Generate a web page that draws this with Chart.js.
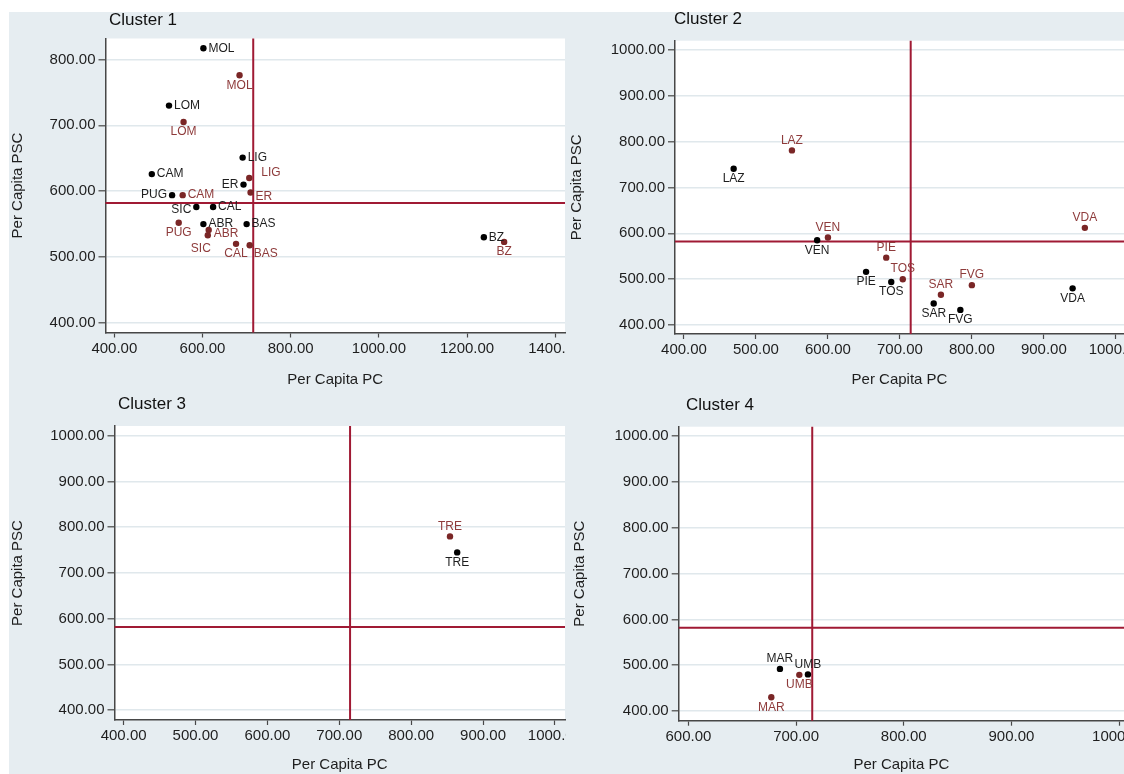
<!DOCTYPE html>
<html>
<head>
<meta charset="utf-8">
<script src="https://cdn.jsdelivr.net/npm/chart.js@4.4.1/dist/chart.umd.min.js"></script>
<style>
  html, body { margin: 0; padding: 0; background: #ffffff; width: 1124px; height: 774px; overflow: hidden; }
  #bg { position: absolute; left: 9px; top: 12px; width: 1115px; height: 762px; background: #e6edf1; }
  canvas { position: absolute; }
</style>
</head>
<body>
<div id="bg"></div>
<canvas id="c1" width="557" height="378" style="left:9px;top:12px"></canvas>
<canvas id="c2" width="558" height="378" style="left:566px;top:12px"></canvas>
<canvas id="c3" width="557" height="384" style="left:9px;top:390px"></canvas>
<canvas id="c4" width="558" height="384" style="left:566px;top:390px"></canvas>
<script>
// ---------------- DATA ----------------
const refPC = 715;   // vertical reference line (Per Capita PC)
const refPSC = 582;  // horizontal reference line (Per Capita PSC)

// Cluster 1
const c1Regions = ['MOL','LOM','LIG','CAM','ER','PUG','SIC','CAL','ABR','BAS','BZ'];
const c1BlackPC  = [602, 524, 691, 485, 693, 531, 586, 624, 602, 700, 1238];
const c1BlackPSC = [817, 730, 651, 626, 610, 594, 576, 576, 550, 550, 530];
const c1RedPC    = [684, 557, 706, 555, 709, 546, 612, 676, 614, 707, 1284];
const c1RedPSC   = [776, 705, 620, 594, 598, 552, 533, 520, 541, 518, 523];
const c1XTicks = [400, 600, 800, 1000, 1200, 1400];
const c1YTicks = [400, 500, 600, 700, 800];
const c1XRange = [380, 1422];
const c1YRange = [385.4, 831.9];

// Cluster 2
const c2Regions = ['LAZ','VEN','PIE','TOS','SAR','FVG','VDA'];
const c2BlackPC  = [469, 585, 653, 688, 747, 784, 940];
const c2BlackPSC = [741, 585, 516, 494, 447, 433, 480];
const c2RedPC    = [550, 600, 681, 704, 757, 800, 957];
const c2RedPSC   = [781, 591, 547, 500, 466, 487, 612];
const c2XTicks = [400, 500, 600, 700, 800, 900, 1000];
const c2YTicks = [400, 500, 600, 700, 800, 900, 1000];
const c2XRange = [387.5, 1011.4];
const c2YRange = [380.4, 1020.3];

// Cluster 3
const c3Regions = ['TRE'];
const c3BlackPC  = [864];
const c3BlackPSC = [745];
const c3RedPC    = [854];
const c3RedPSC   = [780];
const c3XTicks = [400, 500, 600, 700, 800, 900, 1000];
const c3YTicks = [400, 500, 600, 700, 800, 900, 1000];
const c3XRange = [387.3, 1014];
const c3YRange = [378.8, 1021.2];

// Cluster 4
const c4Regions = ['MAR','UMB'];
const c4BlackPC  = [685, 711];
const c4BlackPSC = [492, 480];
const c4RedPC    = [677, 703];
const c4RedPSC   = [430, 479];
const c4XTicks = [600, 700, 800, 900, 1000];
const c4YTicks = [400, 500, 600, 700, 800, 900, 1000];
const c4XRange = [591, 1004.5];
const c4YRange = [379, 1020.3];

// Marker-label clock positions (style, kept apart from values)
const c1BlackLabelPos = [3, 3, 3, 3, 9, 9, 8, 3, 3, 3, 3];
const c1RedLabelPos   = [6, 6, 2, 3, 4, 6, 7, 6, 4, 5, 6];
const c2BlackLabelPos = [6, 6, 6, 6, 6, 6, 6];
const c2RedLabelPos   = [12, 12, 12, 12, 12, 12, 12];
const c3BlackLabelPos = [6];
const c3RedLabelPos   = [12];
const c4BlackLabelPos = [12, 12];
const c4RedLabelPos   = [6, 6];

// ---------------- STYLE ----------------
const FONT = '"Liberation Sans", Arial, Helvetica, sans-serif';
Chart.defaults.font.family = FONT;
const BLACK_MARK = '#000000';
const RED_MARK = '#7a2626';
const RED_TEXT = '#8e3b3b';
const REF_LINE = '#a01a34';
const AXIS = '#474747';
const GRID = '#e0e8ec';
const TXT = '#1e1e1e';

const clock = {
  3:  {dx: 5,  dy: 0,   align: 'left'},
  9:  {dx: -5, dy: 0,   align: 'right'},
  12: {dx: 0,  dy: -10, align: 'center'},
  6:  {dx: 0,  dy: 10,  align: 'center'},
  2:  {dx: 12, dy: -5,  align: 'left'},
  4:  {dx: 5,  dy: 4,   align: 'left'},
  5:  {dx: 4,  dy: 8,   align: 'left'},
  8:  {dx: -5, dy: 3,   align: 'right'},
  7:  {dx: 3,  dy: 13,  align: 'right'}
};

const panelPlugin = {
  id: 'panel',
  beforeDraw(chart) {
    const {ctx, chartArea: a} = chart;
    ctx.save();
    ctx.fillStyle = '#ffffff';
    ctx.fillRect(a.left, a.top, a.right - a.left, a.bottom - a.top);
    ctx.restore();
  },
  beforeDatasetsDraw(chart) {
    const {ctx, chartArea: a, scales} = chart;
    const px = scales.x.getPixelForValue(refPC);
    const py = scales.y.getPixelForValue(refPSC);
    ctx.save();
    ctx.strokeStyle = REF_LINE;
    ctx.lineWidth = 2;
    ctx.beginPath();
    ctx.moveTo(a.left, py); ctx.lineTo(a.right, py);
    ctx.moveTo(px, a.top); ctx.lineTo(px, a.bottom);
    ctx.stroke();
    ctx.restore();
  },
  afterDatasetsDraw(chart) {
    const {ctx} = chart;
    ctx.save();
    ctx.font = '12px ' + FONT;
    ctx.textBaseline = 'middle';
    chart.data.datasets.forEach((ds, di) => {
      const meta = chart.getDatasetMeta(di);
      meta.data.forEach((pt, i) => {
        const p = clock[ds.labelPos[i]];
        ctx.fillStyle = ds.labelColor;
        ctx.textAlign = p.align;
        ctx.fillText(ds.names[i], pt.x + p.dx, pt.y + p.dy);
      });
    });
    ctx.restore();
  },
  afterDraw(chart) {
    const o = chart.options.plugins.panel;
    const {ctx} = chart;
    ctx.save();
    ctx.font = '17px ' + FONT;
    ctx.fillStyle = '#111111';
    ctx.textAlign = 'left';
    ctx.textBaseline = 'middle';
    ctx.fillText(o.title, o.tx, o.ty);
    ctx.restore();
  }
};

function pts(xs, ys) { return xs.map((x, i) => ({x: x, y: ys[i]})); }

function makeChart(id, p) {
  new Chart(document.getElementById(id), {
    type: 'scatter',
    data: {
      datasets: [
        { data: pts(p.bx, p.by), names: p.names, labelPos: p.bpos, labelColor: TXT,
          backgroundColor: BLACK_MARK, borderColor: BLACK_MARK, pointRadius: 3.2, borderWidth: 0 },
        { data: pts(p.rx, p.ry), names: p.names, labelPos: p.rpos, labelColor: RED_TEXT,
          backgroundColor: RED_MARK, borderColor: RED_MARK, pointRadius: 3.2, borderWidth: 0 }
      ]
    },
    options: {
      responsive: false,
      animation: false,
      events: [],
      layout: { autoPadding: false, padding: { top: p.top, left: 0, right: p.right, bottom: 0 } },
      plugins: {
        legend: { display: false },
        tooltip: { enabled: false },
        panel: { title: p.title, tx: p.tx, ty: p.ty }
      },
      scales: {
        x: {
          type: 'linear', position: 'bottom', min: p.xr[0], max: p.xr[1],
          afterFit(s) { s.height = p.xh; s.paddingLeft = 0; s.paddingRight = 0; },
          afterBuildTicks(s) { s.ticks = p.xt.map(v => ({value: v})); },
          ticks: { autoSkip: false, maxRotation: 0, minRotation: 0, padding: 2, color: TXT,
                   font: { size: 15 }, callback: v => Number(v).toFixed(2) },
          grid: { drawOnChartArea: false, drawTicks: true, tickLength: 5, tickColor: AXIS, tickWidth: 1.2 },
          border: { display: true, color: AXIS, width: 1.5 },
          title: { display: true, text: 'Per Capita PC', color: TXT, font: { size: 15 },
                   padding: { top: 0, bottom: p.xtp } }
        },
        y: {
          type: 'linear', position: 'left', min: p.yr[0], max: p.yr[1],
          afterFit(s) { s.width = p.yw; s.paddingTop = 0; s.paddingBottom = 0; },
          afterBuildTicks(s) { s.ticks = p.yt.map(v => ({value: v})); },
          ticks: { autoSkip: false, padding: 3, color: TXT, font: { size: 15 },
                   callback: v => Number(v).toFixed(2) },
          grid: { drawOnChartArea: true, color: GRID, lineWidth: 1.6, drawTicks: true,
                  tickLength: 7, tickColor: AXIS, tickWidth: 1.2 },
          border: { display: true, color: AXIS, width: 1.5 },
          title: { display: true, text: 'Per Capita PSC', color: TXT, font: { size: 15 },
                   padding: { top: p.ytp, bottom: 0 } }
        }
      }
    },
    plugins: [panelPlugin]
  });
}

makeChart('c1', {
  title: 'Cluster 1', tx: 100, ty: 8,
  names: c1Regions, bx: c1BlackPC, by: c1BlackPSC, rx: c1RedPC, ry: c1RedPSC,
  bpos: c1BlackLabelPos, rpos: c1RedLabelPos,
  xt: c1XTicks, yt: c1YTicks, xr: c1XRange, yr: c1YRange,
  top: 26.5, right: 1, yw: 96.5, xh: 57.5, xtp: 1, ytp: 0
});
makeChart('c2', {
  title: 'Cluster 2', tx: 108, ty: 7,
  names: c2Regions, bx: c2BlackPC, by: c2BlackPSC, rx: c2RedPC, ry: c2RedPSC,
  bpos: c2BlackLabelPos, rpos: c2RedLabelPos,
  xt: c2XTicks, yt: c2YTicks, xr: c2XRange, yr: c2YRange,
  top: 28.7, right: 0, yw: 109, xh: 56, xtp: 1, ytp: 2
});
makeChart('c3', {
  title: 'Cluster 3', tx: 109, ty: 14,
  names: c3Regions, bx: c3BlackPC, by: c3BlackPSC, rx: c3RedPC, ry: c3RedPSC,
  bpos: c3BlackLabelPos, rpos: c3RedLabelPos,
  xt: c3XTicks, yt: c3YTicks, xr: c3XRange, yr: c3YRange,
  top: 36, right: 1, yw: 105.5, xh: 54, xtp: 0, ytp: 0
});
makeChart('c4', {
  title: 'Cluster 4', tx: 120, ty: 15,
  names: c4Regions, bx: c4BlackPC, by: c4BlackPSC, rx: c4RedPC, ry: c4RedPSC,
  bpos: c4BlackLabelPos, rpos: c4RedLabelPos,
  xt: c4XTicks, yt: c4YTicks, xr: c4XRange, yr: c4YRange,
  top: 36.7, right: 0, yw: 112.7, xh: 53.3, xtp: 0, ytp: 5
});
</script>
</body>
</html>
